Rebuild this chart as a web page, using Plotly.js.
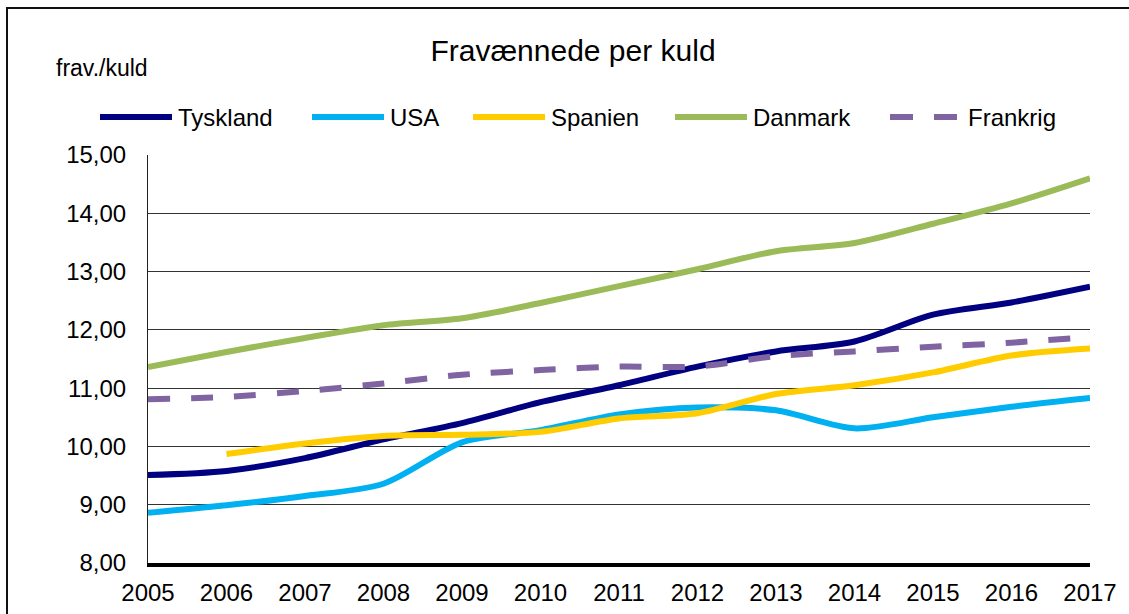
<!DOCTYPE html>
<html>
<head>
<meta charset="utf-8">
<script src="https://cdn.plot.ly/plotly-3.0.1.min.js"></script>
<style>
  html, body { margin: 0; padding: 0; background: #fff; }
  #chart { width: 1129px; height: 614px; }
  #frame { position: absolute; left: 6px; top: 7px; width: 1140px; height: 620px;
           border-top: 2px solid #111; border-left: 2px solid #111; pointer-events: none; }
</style>
</head>
<body>
<div id="chart"></div>
<div id="frame"></div>
<script>
// ---- data ----
const years = [2005, 2006, 2007, 2008, 2009, 2010, 2011, 2012, 2013, 2014, 2015, 2016, 2017];
const tyskland = [9.51, 9.58, 9.80, 10.12, 10.40, 10.76, 11.05, 11.37, 11.63, 11.80, 12.26, 12.47, 12.74];
const usa      = [8.86, 8.99, 9.15, 9.36, 10.07, 10.28, 10.55, 10.67, 10.62, 10.31, 10.50, 10.68, 10.83];
const spanien  = [null, 9.87, 10.05, 10.18, 10.20, 10.25, 10.48, 10.57, 10.90, 11.05, 11.27, 11.56, 11.68];
const danmark  = [11.36, 11.62, 11.86, 12.08, 12.20, 12.46, 12.75, 13.04, 13.35, 13.49, 13.82, 14.17, 14.60];
const frankrig = [10.81, 10.85, 10.95, 11.08, 11.23, 11.31, 11.37, 11.37, 11.55, 11.63, 11.71, 11.78, 11.88];

const seriesNames = ['Tyskland', 'USA', 'Spanien', 'Danmark', 'Frankrig'];
const seriesValues = [tyskland, usa, spanien, danmark, frankrig];
const seriesColors = ['#000080', '#00B0F0', '#FFCC00', '#9BBB59', '#8064A2'];
const seriesDash = ['solid', 'solid', 'solid', 'solid', '22px,21px'];
const yTicks = [8, 9, 10, 11, 12, 13, 14, 15];

const FONT = '"Liberation Sans", Arial, sans-serif';

const traces = seriesNames.map((n, i) => ({
  type: 'scatter', mode: 'lines', name: n,
  x: years, y: seriesValues[i],
  connectgaps: false,
  line: { color: seriesColors[i], width: 6, shape: 'spline', smoothing: 0.8, dash: seriesDash[i] },
  hoverinfo: 'x+y+name'
}));

// plot area in pixels
const W = 1129, H = 614, L = 148, R = 1090, T = 155, B = 563;
const px2x = p => (p - L) / (R - L);
const py2y = p => (B - p) / (B - T);

// custom legend (layout decoration)
const legendStart = [100, 312, 473, 675, 890];
const legendY = 117, lineLen = 72;
const shapes = [];
const annotations = [];
seriesNames.forEach((n, i) => {
  const x0 = legendStart[i];
  if (seriesDash[i] === 'solid') {
    shapes.push({ type: 'line', xref: 'paper', yref: 'paper',
      x0: px2x(x0), x1: px2x(x0 + lineLen), y0: py2y(legendY), y1: py2y(legendY),
      line: { color: seriesColors[i], width: 6 } });
  } else {
    shapes.push({ type: 'line', xref: 'paper', yref: 'paper',
      x0: px2x(x0), x1: px2x(x0 + 23), y0: py2y(legendY), y1: py2y(legendY),
      line: { color: seriesColors[i], width: 6 } });
    shapes.push({ type: 'line', xref: 'paper', yref: 'paper',
      x0: px2x(x0 + 44), x1: px2x(x0 + 67), y0: py2y(legendY), y1: py2y(legendY),
      line: { color: seriesColors[i], width: 6 } });
  }
  annotations.push({ xref: 'paper', yref: 'paper', x: px2x(x0 + lineLen + 4), y: py2y(legendY),
    xanchor: 'left', yanchor: 'middle', showarrow: false, text: n,
    font: { family: FONT, size: 24, color: '#000' } });
});
annotations.push({ xref: 'paper', yref: 'paper', x: px2x(54), y: py2y(68),
  xanchor: 'left', yanchor: 'middle', showarrow: false, text: 'frav./kuld',
  font: { family: FONT, size: 23, color: '#000' } });

const layout = {
  width: W, height: H,
  margin: { l: L, r: W - R, t: T, b: H - B, pad: 0 },
  paper_bgcolor: '#fff', plot_bgcolor: '#fff',
  separators: ',.',
  showlegend: false,
  font: { family: FONT, size: 24, color: '#000' },
  title: { text: 'Fravænnede per kuld', x: 573 / W, xanchor: 'center', xref: 'container',
           y: 1 - 50 / H, yanchor: 'middle', yref: 'container',
           font: { family: FONT, size: 30, color: '#000' } },
  xaxis: {
    range: [2005, 2017], tickvals: years, ticktext: years.map(String),
    showgrid: false, zeroline: false, ticks: '', ticklabelstandoff: 5,
    showline: true, linecolor: '#000', linewidth: 4,
    tickfont: { family: FONT, size: 24, color: '#000' }, fixedrange: true
  },
  yaxis: {
    range: [8, 15], tickvals: yTicks, tickformat: '.2f',
    showgrid: true, gridcolor: '#333', gridwidth: 1.2, zeroline: false,
    ticks: '', ticklabelstandoff: 16,
    showline: true, linecolor: '#222', linewidth: 1,
    tickfont: { family: FONT, size: 24, color: '#000' }, fixedrange: true
  },
  shapes: shapes,
  annotations: annotations
};

Plotly.newPlot('chart', traces, layout, { staticPlot: true, displayModeBar: false });
</script>
</body>
</html>
